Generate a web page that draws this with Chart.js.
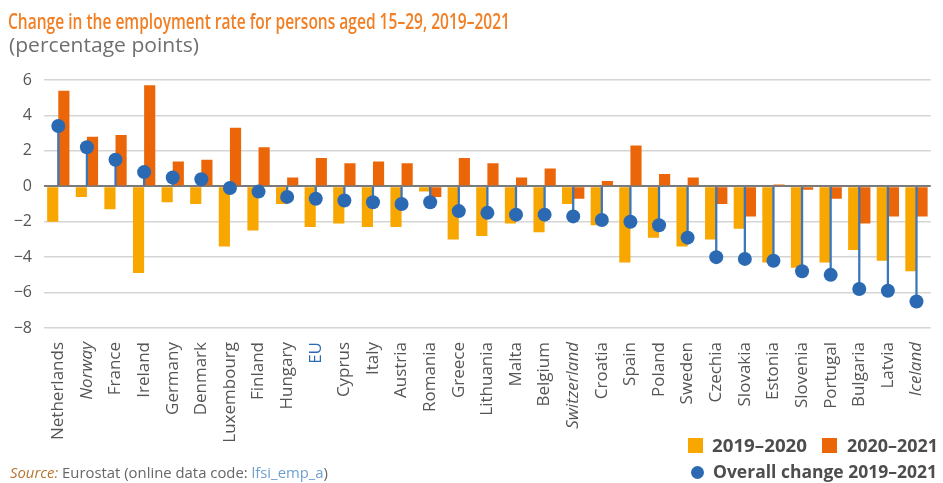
<!DOCTYPE html>
<html>
<head>
<meta charset="utf-8">
<script src="https://cdn.jsdelivr.net/npm/chart.js@4.4.1/dist/chart.umd.min.js"></script>
<style>
  body { margin: 0; background: #fff; }
  #wrap { position: relative; width: 943px; height: 483px; overflow: hidden; font-family: "Open Sans", sans-serif; }
  #chart { position: absolute; left: 0; top: 0; }
  .txt { position: absolute; white-space: nowrap; transform-origin: 0 0; display: inline-block; }
  .sq { position: absolute; width: 15px; height: 15px; }
  .dot { position: absolute; width: 13px; height: 13px; border-radius: 50%; background: #2b6ab3; }
</style>
</head>
<body>
<div id="wrap">
  <canvas id="chart" width="943" height="483"></canvas>
  <span class="txt fit" data-w="502" style="left:8px; top:11px; font-size:21px; line-height:21px; font-weight:600; color:#f27f24;">Change in the employment rate for persons aged 15–29, 2019–2021</span>
  <span class="txt fit" data-w="190" style="left:9px; top:35px; font-size:20px; line-height:20px; color:#6f6f6f;">(percentage points)</span>

  <div class="sq" style="left:688px; top:438px; background:#f8a600;"></div>
  <span class="txt fit" data-w="95" style="left:712px; top:437px; font-size:17px; line-height:17px; font-weight:700; color:#4d4d4d;">2019–2020</span>
  <div class="sq" style="left:822px; top:438px; background:#eb6608;"></div>
  <span class="txt fit" data-w="91" style="left:847px; top:437px; font-size:17px; line-height:17px; font-weight:700; color:#4d4d4d;">2020–2021</span>
  <div class="dot" style="left:691px; top:466px;"></div>
  <span class="txt fit" data-w="224" style="left:713px; top:463px; font-size:17px; line-height:17px; font-weight:700; color:#4d4d4d;">Overall change 2019–2021</span>

  <span class="txt fit" data-w="318" style="left:10px; top:465px; font-size:15px; line-height:15px; color:#666;"><i style="color:#b8732e;">Source:</i> Eurostat (online data code: <span style="color:#6f9fd0;">lfsi_emp_a</span>)</span>
</div>

<script>
// Countries in the order of the chart
const countries = ['Netherlands', 'Norway', 'France', 'Ireland', 'Germany', 'Denmark', 'Luxembourg', 'Finland',
    'Hungary', 'EU', 'Cyprus', 'Italy', 'Austria', 'Romania', 'Greece', 'Lithuania', 'Malta', 'Belgium',
    'Switzerland', 'Croatia', 'Spain', 'Poland', 'Sweden', 'Czechia', 'Slovakia', 'Estonia', 'Slovenia',
    'Portugal', 'Bulgaria', 'Latvia', 'Iceland'];

// Non EU countries are written in italics
const italic_labels = ['Norway', 'Switzerland', 'Iceland'];

// Change 2019-2020 (percentage points)
const change_2019_2020 = [-2.0, -0.6, -1.3, -4.9, -0.9, -1.0, -3.4, -2.5, -1.0, -2.3, -2.1, -2.3, -2.3, -0.3,
    -3.0, -2.8, -2.1, -2.6, -1.0, -2.2, -4.3, -2.9, -3.4, -3.0, -2.4, -4.3, -4.6, -4.3, -3.6, -4.2, -4.8];

// Change 2020-2021 (percentage points)
const change_2020_2021 = [5.4, 2.8, 2.9, 5.7, 1.4, 1.5, 3.3, 2.2, 0.5, 1.6, 1.3, 1.4, 1.3, -0.6,
    1.6, 1.3, 0.5, 1.0, -0.7, 0.3, 2.3, 0.7, 0.5, -1.0, -1.7, 0.1, -0.2, -0.7, -2.1, -1.7, -1.7];

// Overall change 2019-2021 (percentage points)
const change_overall = [3.4, 2.2, 1.5, 0.8, 0.5, 0.4, -0.1, -0.3, -0.6, -0.7, -0.8, -0.9, -1.0, -0.9,
    -1.4, -1.5, -1.6, -1.6, -1.7, -1.9, -2.0, -2.2, -2.9, -4.0, -4.1, -4.2, -4.8, -5.0, -5.8, -5.9, -6.5];

// Y axis
const y_min = -8;
const y_max = 6;
const y_step = 2;


// Squeeze the html texts to the width they have in the picture
document.querySelectorAll('.fit').forEach(el => {
    const w = el.getBoundingClientRect().width;
    el.style.transform = `scaleX(${el.dataset.w / w})`;
});


const ctx = document.getElementById('chart');

new Chart(ctx, {
    data: {
        labels: countries,
        datasets: [
            {
                type: 'line',
                label: 'Overall change 2019–2021',
                data: change_overall,
                showLine: false,
                pointRadius: 7,
                pointHoverRadius: 7,
                pointBorderWidth: 0,
                pointBackgroundColor: '#2b6ab3',
                order: 0
            },
            {
                // stems of the dots, not grouped so they stay in the middle
                type: 'bar',
                label: 'stem',
                data: change_overall.map(v => [0, v]),
                grouped: false,
                backgroundColor: '#3a76bb',
                barThickness: 1.6,
                order: 1
            },
            {
                type: 'bar',
                label: '2019–2020',
                data: change_2019_2020,
                backgroundColor: '#f8a600',
                categoryPercentage: 0.78,
                barPercentage: 1.0,
                order: 2
            },
            {
                type: 'bar',
                label: '2020–2021',
                data: change_2020_2021,
                backgroundColor: '#eb6608',
                categoryPercentage: 0.78,
                barPercentage: 1.0,
                order: 2
            }
        ]
    },
    options: {
        responsive: false,
        animation: false,
        devicePixelRatio: 1,
        layout: {
            padding: { top: 80, right: 3, bottom: 0, left: 0 }
        },
        plugins: {
            legend: { display: false },
            tooltip: { enabled: false }
        },
        scales: {
            x: {
                offset: true,
                grid: { display: false },
                border: { display: false },
                ticks: {
                    autoSkip: false,
                    minRotation: 90,
                    maxRotation: 90,
                    padding: 6,
                    color: (c) => countries[c.index] === 'EU' ? '#2b6ab3' : '#555555',
                    font: (c) => ({
                        family: 'Open Sans',
                        size: 17,
                        style: italic_labels.indexOf(countries[c.index]) !== -1 ? 'italic' : 'normal'
                    })
                },
                afterFit: (axis) => { axis.height = 155; }
            },
            y: {
                min: y_min,
                max: y_max,
                border: { display: false },
                grid: {
                    drawTicks: false,
                    lineWidth: (c) => c.tick.value === 0 ? 2 : 1.5,
                    color: (c) => c.tick.value === 0 ? '#7a7a7a' : '#d5d5d5'
                },
                ticks: {
                    stepSize: y_step,
                    padding: 12,
                    color: '#555555',
                    font: { family: 'Open Sans', size: 16 },
                    callback: (value) => String(value).replace('-', '\u2212')
                },
                afterFit: (axis) => { axis.width = 44; }
            }
        }
    }
});
</script>
</body>
</html>
